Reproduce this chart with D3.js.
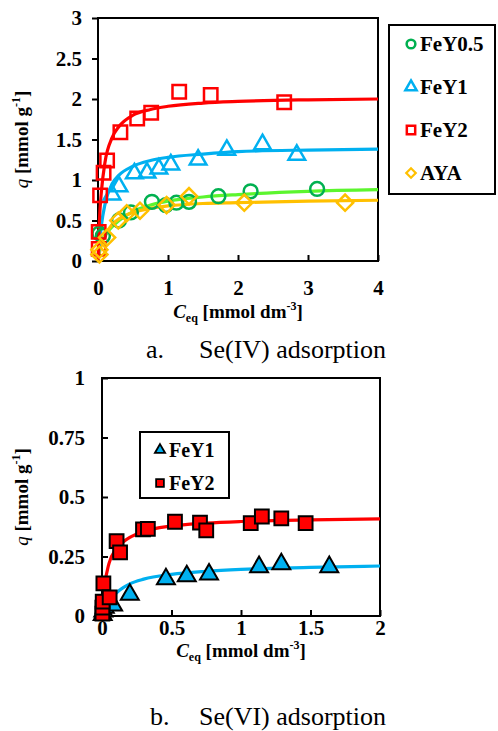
<!DOCTYPE html>
<html><head><meta charset="utf-8">
<script src="https://cdn.jsdelivr.net/npm/d3@7"></script>
<style>
body{margin:0;background:#fff;}
svg text{font-family:"Liberation Serif","Times New Roman",Times,serif;}
</style></head>
<body><svg id="c" width="498" height="731"></svg>
<script>
// ---------- Data: (a) Se(IV) adsorption ----------
const topTicksX = [0, 1, 2, 3, 4];
const topTicksY = [0, 0.5, 1, 1.5, 2, 2.5, 3];
const topFeY05C = [0.02, 0.07, 0.3, 0.47, 0.77, 0.97, 1.12, 1.3, 1.72, 2.18, 3.13];
const topFeY05Q = [0.34, 0.31, 0.5, 0.6, 0.73, 0.69, 0.72, 0.73, 0.8, 0.86, 0.89];
const topFeY1C = [0.2, 0.3, 0.52, 0.7, 0.87, 1.04, 1.43, 1.84, 2.35, 2.84];
const topFeY1Q = [0.82, 0.92, 1.08, 1.09, 1.14, 1.19, 1.25, 1.37, 1.44, 1.31];
const topFeY2C = [0.01, 0.01, 0.03, 0.08, 0.13, 0.32, 0.56, 0.76, 1.16, 1.61, 2.66];
const topFeY2Q = [0.15, 0.36, 0.81, 1.09, 1.24, 1.59, 1.76, 1.83, 2.09, 2.05, 1.96];
const topAYAC = [0.02, 0.02, 0.13, 0.29, 0.41, 0.6, 0.98, 1.3, 2.09, 3.53];
const topAYAQ = [0.08, 0.14, 0.29, 0.5, 0.59, 0.62, 0.69, 0.8, 0.72, 0.72];
// fitted curves
const topCurveC = [0, 0.02, 0.05, 0.1, 0.2, 0.3, 0.5, 0.75, 1, 1.5, 2, 3, 4];
const topFitFeY05 = [0, 0.13, 0.24, 0.32, 0.42, 0.5, 0.61, 0.69, 0.74, 0.79, 0.82, 0.86, 0.88];
const topFitFeY1 = [0, 0.2, 0.45, 0.7, 0.95, 1.06, 1.17, 1.24, 1.28, 1.32, 1.35, 1.37, 1.38];
const topFitFeY2 = [0, 0.5, 0.87, 1.22, 1.52, 1.66, 1.8, 1.87, 1.91, 1.95, 1.97, 1.99, 2.0];
const topFitAYA = [0, 0.1, 0.2, 0.31, 0.45, 0.52, 0.6, 0.65, 0.68, 0.71, 0.72, 0.74, 0.75];

// ---------- Data: (b) Se(VI) adsorption ----------
const botTicksX = [0, 0.5, 1, 1.5, 2];
const botTicksY = [0, 0.25, 0.5, 0.75, 1];
const botFeY1C = [0.005, 0.01, 0.02, 0.08, 0.2, 0.46, 0.61, 0.77, 1.13, 1.29, 1.635];
const botFeY1Q = [0.005, 0.02, 0.035, 0.045, 0.09, 0.155, 0.168, 0.175, 0.206, 0.218, 0.206];
const botFeY2C = [0.003, 0.003, 0.005, 0.01, 0.055, 0.105, 0.13, 0.295, 0.33, 0.525, 0.705, 0.75, 1.07, 1.15, 1.29, 1.465];
const botFeY2Q = [0.01, 0.035, 0.06, 0.137, 0.078, 0.315, 0.267, 0.364, 0.366, 0.396, 0.392, 0.36, 0.39, 0.418, 0.41, 0.39];
const botCurveC = [0, 0.02, 0.05, 0.1, 0.15, 0.2, 0.3, 0.5, 0.75, 1, 1.5, 2];
const botFitFeY1 = [0, 0.02, 0.05, 0.095, 0.118, 0.135, 0.155, 0.175, 0.188, 0.196, 0.204, 0.21];
const botFitFeY2 = [0, 0.13, 0.22, 0.28, 0.31, 0.33, 0.355, 0.378, 0.39, 0.397, 0.404, 0.408];

const RED = "#FF0000", BLUE = "#00B0F0", GREEN = "#00B050", LGREEN = "#5CF52E", ORANGE = "#FFC000";
const FONT = "'Liberation Serif','Times New Roman',Times,serif";

const svg = d3.select("#c");
const zip = (a, b) => a.map((v, i) => [v, b[i]]);

function drawPanel(o) {
  const g = svg.append("g").attr("font-family", FONT);
  const x = d3.scaleLinear().domain(o.xDom).range(o.xRange);
  const y = d3.scaleLinear().domain(o.yDom).range(o.yRange);
  // frame
  g.append("rect").attr("x", o.xRange[0]).attr("y", o.yRange[1])
    .attr("width", o.xRange[1] - o.xRange[0]).attr("height", o.yRange[0] - o.yRange[1])
    .attr("fill", "none").attr("stroke", "#000").attr("stroke-width", 2);
  // axes
  const ax = d3.axisBottom(x).tickValues(o.ticksX).tickFormat(d3.format("~g"))
    .tickSizeInner(-6).tickSizeOuter(0).tickPadding(o.xPad);
  const ay = d3.axisLeft(y).tickValues(o.ticksY).tickFormat(d3.format("~g"))
    .tickSizeInner(o.yTickIn ? -6 : 6).tickSizeOuter(0).tickPadding(o.yPad);
  const gx = g.append("g").attr("transform", `translate(0,${o.yRange[0]})`).call(ax);
  const gy = g.append("g").attr("transform", `translate(${o.xRange[0]},0)`).call(ay);
  [gx, gy].forEach(a => {
    a.attr("font-family", FONT);
    a.select(".domain").remove();
    a.selectAll("line").attr("stroke", "#000").attr("stroke-width", 2);
    a.selectAll("text").attr("font-family", FONT).attr("font-size", 21)
      .attr("font-weight", "bold").attr("fill", "#000");
  });
  // curves
  const line = d3.line().x(d => x(d[0])).y(d => y(d[1])).curve(d3.curveMonotoneX);
  o.curves.forEach(c => {
    g.append("path").attr("d", line(zip(c.c, c.q))).attr("fill", "none")
      .attr("stroke", c.color).attr("stroke-width", 3.2);
  });
  // markers
  o.series.forEach(s => {
    g.append("g").selectAll("path").data(zip(s.c, s.q)).join("path")
      .attr("d", d3.symbol().type(s.type).size(s.size)())
      .attr("transform", d => `translate(${x(d[0])},${y(d[1])})${s.rot ? " rotate(45)" : ""}`)
      .attr("fill", s.fill).attr("stroke", s.stroke).attr("stroke-width", s.sw);
  });
  // axis titles
  g.append("text").attr("transform", `translate(${o.yTitleX},${(o.yRange[0] + o.yRange[1]) / 2}) rotate(-90)`)
    .attr("text-anchor", "middle").attr("font-size", 19).attr("font-weight", "bold")
    .call(t => {
      t.append("tspan").attr("font-style", "italic").attr("font-weight", "normal").text("q");
      t.append("tspan").text(" [mmol g");
      t.append("tspan").attr("font-size", 12).attr("dy", -8).text("-1");
      t.append("tspan").attr("dy", 8).text("]");
    });
  g.append("text").attr("x", (o.xRange[0] + o.xRange[1]) / 2).attr("y", o.xTitleY)
    .attr("text-anchor", "middle").attr("font-size", 19).attr("font-weight", "bold")
    .call(t => {
      t.append("tspan").attr("font-style", "italic").text("C");
      t.append("tspan").attr("font-size", 12).attr("dy", 4).text("eq");
      t.append("tspan").attr("dy", -4).text(" [mmol dm");
      t.append("tspan").attr("font-size", 12).attr("dy", -8).text("-3");
      t.append("tspan").attr("dy", 8).text("]");
    });
  // caption
  g.append("text").attr("x", o.capX).attr("y", o.capY).attr("font-size", 26).text(o.capA);
  g.append("text").attr("x", o.capX2).attr("y", o.capY).attr("font-size", 26).text(o.capB);
  // legend
  const L = o.legend;
  g.append("rect").attr("x", L.x).attr("y", L.y).attr("width", L.w).attr("height", L.h)
    .attr("fill", "#fff").attr("stroke", "#000").attr("stroke-width", 2);
  L.items.forEach((it, i) => {
    const yy = L.firstY + i * L.step;
    g.append("path").attr("d", d3.symbol().type(it.type).size(it.size)())
      .attr("transform", `translate(${L.mx},${yy})${it.rot ? " rotate(45)" : ""}`)
      .attr("fill", it.fill).attr("stroke", it.stroke).attr("stroke-width", it.sw);
    g.append("text").attr("x", L.tx).attr("y", yy + 7).attr("font-size", L.fs)
      .attr("font-weight", "bold").text(it.name);
  });
}

// Panel a
drawPanel({
  xDom: [0, 4], xRange: [98, 378], yDom: [0, 3], yRange: [261, 18],
  ticksX: topTicksX, ticksY: topTicksY, xPad: 19, yPad: 10, yTickIn: false,
  yTitleX: 28, xTitleY: 318,
  capX: 146, capX2: 199, capY: 358, capA: "a.", capB: "Se(IV) adsorption",
  curves: [
    {c: topCurveC, q: topFitFeY05, color: LGREEN},
    {c: topCurveC, q: topFitAYA, color: ORANGE},
    {c: topCurveC, q: topFitFeY1, color: BLUE},
    {c: topCurveC, q: topFitFeY2, color: RED}
  ],
  series: [
    {c: topFeY05C, q: topFeY05Q, type: d3.symbolCircle, size: 150, fill: "none", stroke: GREEN, sw: 2.5},
    {c: topFeY1C, q: topFeY1Q, type: d3.symbolTriangle, size: 120, fill: "none", stroke: BLUE, sw: 2.5},
    {c: topFeY2C, q: topFeY2Q, type: d3.symbolSquare, size: 180, fill: "none", stroke: RED, sw: 2.5},
    {c: topAYAC, q: topAYAQ, type: d3.symbolSquare, size: 130, fill: "none", stroke: ORANGE, sw: 2.5, rot: true}
  ],
  legend: {x: 389, y: 25, w: 106, h: 169, mx: 411, tx: 420, firstY: 44, step: 43, fs: 21,
    items: [
      {name: "FeY0.5", type: d3.symbolCircle, size: 60, fill: "none", stroke: GREEN, sw: 2.5},
      {name: "FeY1", type: d3.symbolTriangle, size: 55, fill: "none", stroke: BLUE, sw: 2.5},
      {name: "FeY2", type: d3.symbolSquare, size: 70, fill: "none", stroke: RED, sw: 2.5},
      {name: "AYA", type: d3.symbolSquare, size: 45, fill: "none", stroke: ORANGE, sw: 2.2, rot: true}
    ]}
});

// Panel b
drawPanel({
  xDom: [0, 2], xRange: [102, 380], yDom: [0, 1], yRange: [616, 378],
  ticksX: botTicksX, ticksY: botTicksY, xPad: 4, yPad: 17, yTickIn: true,
  yTitleX: 28, xTitleY: 657,
  capX: 150, capX2: 199, capY: 725, capA: "b.", capB: "Se(VI) adsorption",
  curves: [
    {c: botCurveC, q: botFitFeY1, color: BLUE},
    {c: botCurveC, q: botFitFeY2, color: RED}
  ],
  series: [
    {c: botFeY1C, q: botFeY1Q, type: d3.symbolTriangle, size: 140, fill: BLUE, stroke: "#000", sw: 2},
    {c: botFeY2C, q: botFeY2Q, type: d3.symbolSquare, size: 190, fill: RED, stroke: "#000", sw: 2}
  ],
  legend: {x: 140, y: 432, w: 89, h: 66, mx: 160, tx: 169, firstY: 450, step: 33, fs: 20,
    items: [
      {name: "FeY1", type: d3.symbolTriangle, size: 45, fill: BLUE, stroke: "#000", sw: 1.8},
      {name: "FeY2", type: d3.symbolSquare, size: 60, fill: RED, stroke: "#000", sw: 1.8}
    ]}
});
</script></body></html>
